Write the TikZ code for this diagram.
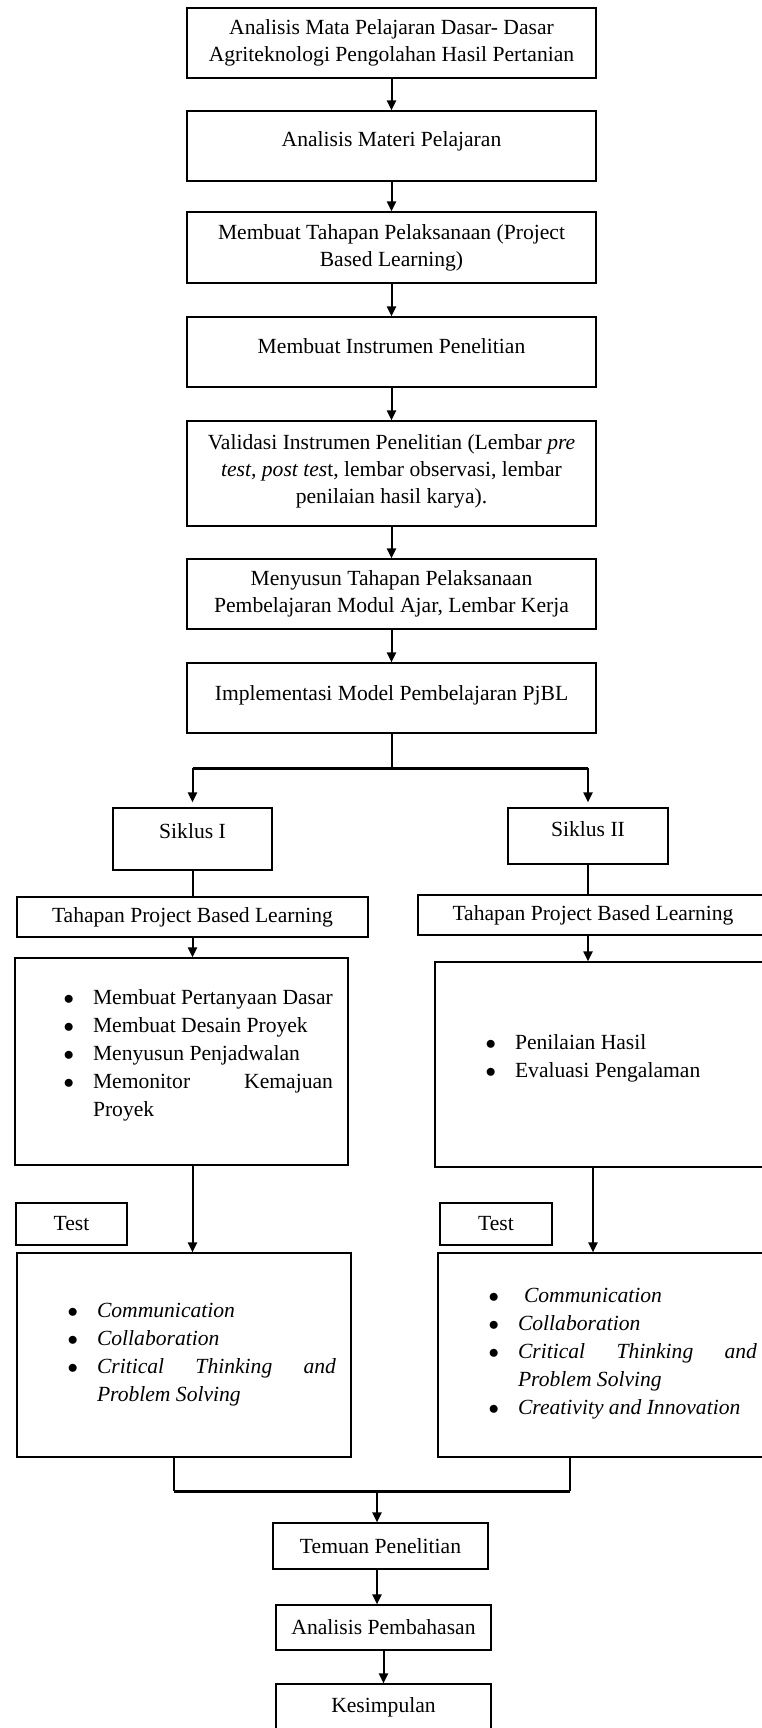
\documentclass[tikz,border=0pt]{standalone}
\usepackage{fontspec}
\setmainfont{Liberation Serif}
\usepackage{enumitem}
\usetikzlibrary{arrows.meta}
\newcommand{\boxfont}{\fontsize{21.6pt}{27pt}\selectfont}
\newcommand{\listfont}{\fontsize{21.6pt}{28pt}\selectfont\tolerance=10000\hyphenpenalty=10000}
\setlist[itemize]{label=$\bullet$, nosep, labelsep=19pt}
\begin{document}
\begin{tikzpicture}[x=1pt, y=-1pt,
    box/.style={draw, line width=1.2pt, inner sep=0pt, align=center, font=\boxfont,
      minimum width=409pt, minimum height=70pt},
    listbox/.style={draw, line width=1.2pt, inner xsep=15pt, inner ysep=0pt, font=\listfont},
    arr/.style={line width=2pt, -{Triangle[length=10pt, width=9pt]}},
    conn/.style={line width=2pt},
    bar/.style={line width=3pt}]
    \useasboundingbox (0, 0) rectangle (762, 1728);
    \node [box] (b1) at (391.5, 43) {Analisis Mata Pelajaran Dasar- Dasar\\Agriteknologi Pengolahan Hasil Pertanian};
    \node [box, text height=15pt, text depth=13pt] (b2) at (391.5, 146) {Analisis Materi Pelajaran};
    \node [box, minimum height=71pt] (b3) at (391.5, 247.5) {Membuat Tahapan Pelaksanaan (Project\\Based Learning)};
    \node [box, text height=15pt, text depth=13pt] (b4) at (391.5, 352) {Membuat Instrumen Penelitian};
    \node [box, minimum height=105pt, text depth=9pt] (b5) at (391.5, 473.5) {Validasi Instrumen Penelitian (Lembar \textit{pre}\\\textit{test, post tes}t, lembar observasi, lembar\\penilaian hasil karya).};
    \node [box] (b6) at (391.5, 594) {Menyusun Tahapan Pelaksanaan\\Pembelajaran Modul Ajar, Lembar Kerja};
    \node [box, text height=15pt, text depth=11pt] (b7) at (391.5, 698) {Implementasi Model Pembelajaran PjBL};
    \node [box, minimum width=159pt, minimum height=62pt, text height=15pt, text depth=17pt] (s1) at (192.5, 839) {Siklus I};
    \node [box, minimum width=160pt, minimum height=56pt, text height=15pt, text depth=15pt] (s2) at (588, 836) {Siklus II};
    \node [box, minimum width=351pt, minimum height=40pt] (t1) at (192.5, 917) {Tahapan Project Based Learning};
    \node [box, minimum width=350pt, minimum height=40pt] (t2) at (593, 915) {Tahapan Project Based Learning};
    \node [listbox, minimum width=333pt, minimum height=207pt] (l1) at (181.5, 1061.5) {%
      \begin{minipage}{303pt}
      \begin{itemize}[leftmargin=63pt]
        \item Membuat Pertanyaan Dasar
        \item Membuat Desain Proyek
        \item Menyusun Penjadwalan
        \item Memonitor Kemajuan Proyek
      \end{itemize}\vspace*{12pt}
      \end{minipage}};
    \node [listbox, minimum width=333pt, minimum height=205pt] (l2) at (601.5, 1064.5) {%
      \begin{minipage}{303pt}
      \begin{itemize}[leftmargin=65pt]
        \item Penilaian Hasil
        \item Evaluasi Pengalaman
      \end{itemize}\vspace*{13pt}
      \end{minipage}};
    \node [box, minimum width=111pt, minimum height=42pt] (test1) at (71.5, 1224) {Test};
    \node [box, minimum width=112pt, minimum height=42pt] (test2) at (496, 1224) {Test};
    \node [listbox, minimum width=334pt, minimum height=204pt] (l3) at (184, 1355) {%
      \begin{minipage}{304pt}
      \begin{itemize}[leftmargin=65pt]
        \item \textit{Communication}
        \item \textit{Collaboration}
        \item \textit{Critical Thinking and Problem Solving}
      \end{itemize}\vspace*{1pt}
      \end{minipage}};
    \node [listbox, minimum width=334pt, minimum height=204pt] (l4) at (605, 1355) {%
      \begin{minipage}{304pt}
      \begin{itemize}[leftmargin=65pt]
        \item \hspace{6pt}\textit{Communication}
        \item \textit{Collaboration}
        \item \textit{Critical Thinking and Problem Solving}
        \item \textit{Creativity and Innovation}
      \end{itemize}\vspace*{3pt}
      \end{minipage}};
    \node [box, minimum width=215pt, minimum height=46pt] (m1) at (380.5, 1546) {Temuan Penelitian};
    \node [box, minimum width=215pt, minimum height=45pt] (m2) at (383.5, 1627.5) {Analisis Pembahasan};
    \node [box, minimum width=215pt, minimum height=46pt] (m3) at (383.5, 1707) {Kesimpulan};
    \coordinate (split) at (391.5, 768);
    \coordinate (j1) at (174, 1491);
    \coordinate (j2) at (570, 1491);
    \coordinate (join) at (377, 1491);
    \draw [arr] (b1) -- (b2);
    \draw [arr] (b2) -- (b3);
    \draw [arr] (b3) -- (b4);
    \draw [arr] (b4) -- (b5);
    \draw [arr] (b5) -- (b6);
    \draw [arr] (b6) -- (b7);
    \draw [conn] (b7) -- (split);
    \draw [bar] (s1 |- split) -- (s2 |- split);
    \draw [arr, shorten >=5pt] (s1 |- split) -- (s1);
    \draw [arr, shorten >=5pt] (s2 |- split) -- (s2);
    \draw [conn] (s1) -- (t1);
    \draw [conn] (s2) -- (s2 |- t2.north);
    \draw [arr] (t1) -- (t1 |- l1.north);
    \draw [arr] (t2.south -| s2) -- (s2 |- l2.north);
    \draw [arr] (l1.south -| t1) -- (t1 |- l3.north);
    \draw [arr] (l2.south -| t2) -- (t2 |- l4.north);
    \draw [conn] (j1 |- l3.south) -- (j1);
    \draw [conn] (j2 |- l4.south) -- (j2);
    \draw [bar] (j1) -- (j2);
    \draw [arr] (join) -- (join |- m1.north);
    \draw [arr] (m1.south -| join) -- (join |- m2.north);
    \draw [arr] (m2) -- (m3);
\end{tikzpicture}
\end{document}
